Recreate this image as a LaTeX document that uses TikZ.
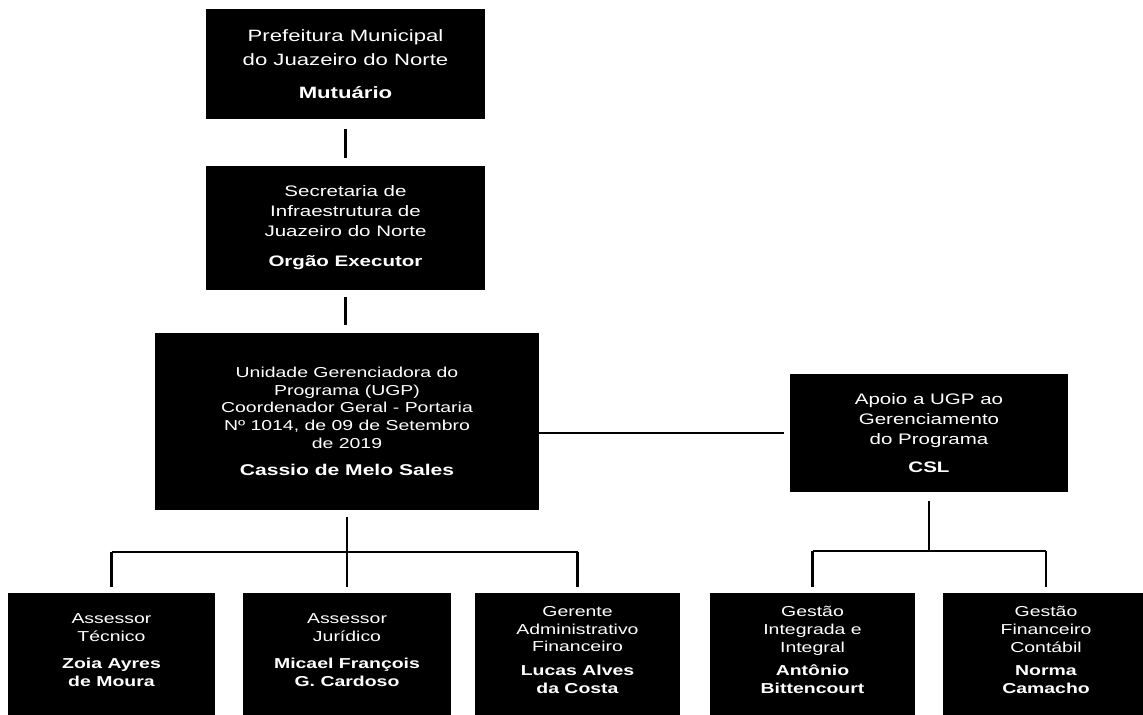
\documentclass[tikz,border=0pt]{standalone}
\usepackage{fontspec}
\setmainfont{Liberation Sans}
\newfontfamily\orgfont[FakeStretch=1.35]{Liberation Sans}
\usetikzlibrary{positioning}
\newdimen\unitpx
\unitpx=0.5pt

\begin{document}
\begin{tikzpicture}[x=0.5pt,y=-0.5pt,
	orgbox/.style={fill=black,text=white,align=center,inner sep=0pt},
	bigtext/.style={font=\orgfont\fontsize{8.2}{12}\selectfont},
	midtext/.style={font=\orgfont\fontsize{7.6}{10}\selectfont},
	smalltext/.style={font=\orgfont\fontsize{7.2}{8.8}\selectfont},
	bottombox/.style={orgbox,smalltext,minimum width=205\unitpx,minimum height=114\unitpx},
	link/.style={line width=1.4pt}]
		\useasboundingbox (0,0) rectangle (1143,715);
		\clip (0,0) rectangle (1143,715);
		% upper chain
		\node[orgbox,bigtext,minimum width=279\unitpx,minimum height=110\unitpx] (mutuario) at (345.5,64)
			{Prefeitura Municipal\\do Juazeiro do Norte\\[4.5pt]\textbf{Mutuário}};
		\node[orgbox,midtext,minimum width=279\unitpx,minimum height=124\unitpx] (secretaria) at (345.5,228)
			{Secretaria de\\Infraestrutura de\\Juazeiro do Norte\\[5pt]\textbf{Orgão Executor}};
		\node[orgbox,smalltext,minimum width=384\unitpx,minimum height=177\unitpx] (ugp) at (347,421.5)
			{Unidade Gerenciadora do\\Programa (UGP)\\Coordenador Geral - Portaria\\Nº 1014, de 09 de Setembro\\de 2019\\[5pt]{\fontsize{7.8}{9}\selectfont\textbf{Cassio de Melo Sales}}};
		\node[orgbox,midtext,minimum width=278\unitpx,minimum height=118\unitpx] (csl) at (929,433)
			{Apoio a UGP ao\\Gerenciamento\\do Programa\\[4pt]\textbf{CSL}};
		% bottom row (boxes run off the lower edge)
		\node[bottombox,minimum width=207\unitpx] (tecnico) at (111.5,650)
			{Assessor\\Técnico\\[5pt]\textbf{Zoia Ayres}\\\textbf{de Moura}};
		\node[bottombox,minimum width=208\unitpx] (juridico) at (347,650)
			{Assessor\\Jurídico\\[5pt]\textbf{Micael François}\\\textbf{G. Cardoso}};
		\node[bottombox] (financeiro) at (577.5,650)
			{Gerente\\Administrativo\\Financeiro\\[3pt]\textbf{Lucas Alves}\\\textbf{da Costa}};
		\node[bottombox] (integral) at (812.5,650)
			{Gestão\\Integrada e\\Integral\\[3pt]\textbf{Antônio}\\\textbf{Bittencourt}};
		\node[bottombox,minimum width=206\unitpx] (contabil) at (1046,650)
			{Gestão\\Financeiro\\Contábil\\[3pt]\textbf{Norma}\\\textbf{Camacho}};
		\foreach \n in {tecnico,juridico,financeiro,integral,contabil}
			\fill[black] (\n.south west) rectangle ([yshift=-10pt]\n.south east);
		% connectors
		\draw[link,shorten <=10\unitpx,shorten >=8\unitpx] (mutuario.south) -- (secretaria.north);
		\draw[link,shorten <=7\unitpx,shorten >=8\unitpx] (secretaria.south) -- (secretaria.south |- ugp.north);
		\draw[link,shorten >=6\unitpx] (ugp.east |- csl.west) -- (csl.west);
		\coordinate (leftbar) at (0,552);
		\coordinate (rightbar) at (0,551);
		\draw[link,shorten <=7\unitpx] (ugp.south) -- (ugp.south |- leftbar);
		\draw[link] (tecnico.north |- leftbar) -- (financeiro.north |- leftbar);
		\foreach \n in {tecnico,juridico,financeiro}
			\draw[link,shorten >=6\unitpx] (\n.north |- leftbar) -- (\n.north);
		\draw[link,shorten <=9\unitpx] (csl.south) -- (csl.south |- rightbar);
		\draw[link] (integral.north |- rightbar) -- (contabil.north |- rightbar);
		\foreach \n in {integral,contabil}
			\draw[link,shorten >=6\unitpx] (\n.north |- rightbar) -- (\n.north);
	\end{tikzpicture}
\end{document}
